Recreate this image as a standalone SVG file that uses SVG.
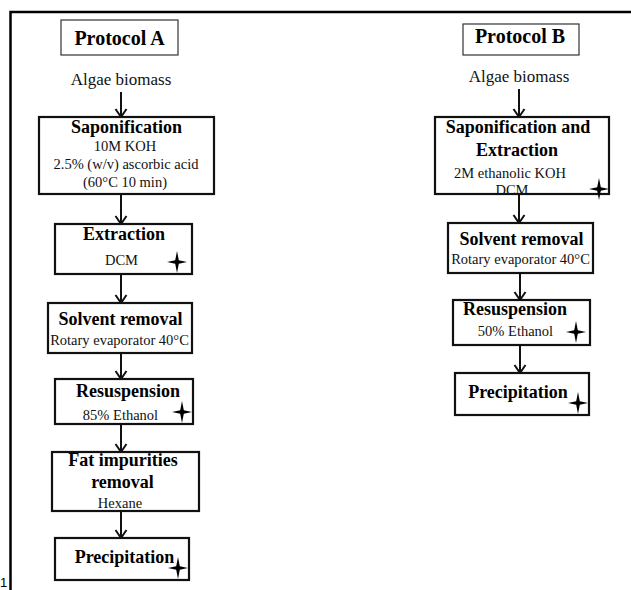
<svg xmlns="http://www.w3.org/2000/svg" xmlns:xlink="http://www.w3.org/1999/xlink" width="631" height="590" viewBox="0 0 631 590">
<style>
.box{fill:#fff;stroke:#111;stroke-width:2.2}
.tbox{fill:#fff;stroke:#333;stroke-width:1.2}
.title{font-family:"Liberation Serif",serif;font-weight:bold;font-size:20px;text-anchor:middle;fill:#000}
.b{font-family:"Liberation Serif",serif;font-weight:bold;font-size:18px;text-anchor:middle;fill:#000}
.r{font-family:"Liberation Serif",serif;font-size:14.5px;text-anchor:middle;fill:#111}
.src{font-family:"Liberation Serif",serif;font-size:17px;text-anchor:middle;fill:#111}
.conn{stroke:#111;stroke-width:2;fill:none;marker-end:url(#ah)}
.star{fill:#000}
</style>
<defs>
<marker id="ah" markerUnits="userSpaceOnUse" viewBox="-10 -7 12 14" markerWidth="12" markerHeight="14" refX="0" refY="0" orient="auto">
<path d="M-8,-5.5 L0,0 L-8,5.5" fill="none" stroke="#111" stroke-width="2"/>
</marker>
<path id="star" d="M0,-11 L1.8,-1.8 L10,0 L1.8,1.8 L0,11 L-1.8,1.8 L-10,0 L-1.8,-1.8 Z"/>
</defs>
<path d="M10.5,590 V12 H631" fill="none" stroke="#000" stroke-width="2.5"/>
<text x="0" y="587" font-family="Liberation Sans,sans-serif" font-size="13" fill="#000">1</text>

<g id="connectors">
<line class="conn" x1="121" y1="92" x2="121" y2="117"/>
<line class="conn" x1="121" y1="194" x2="121" y2="224"/>
<line class="conn" x1="121" y1="274" x2="121" y2="303"/>
<line class="conn" x1="121" y1="353" x2="121" y2="379"/>
<line class="conn" x1="121" y1="424" x2="121" y2="452"/>
<line class="conn" x1="121" y1="511" x2="121" y2="538"/>
<line class="conn" x1="519" y1="89" x2="519" y2="117"/>
<line class="conn" x1="519" y1="194" x2="519" y2="223"/>
<line class="conn" x1="520" y1="273" x2="520" y2="300"/>
<line class="conn" x1="520" y1="345" x2="520" y2="373"/>
</g>

<g id="titleA">
<rect class="tbox" x="61" y="20" width="117" height="35"/>
<text class="title" x="119.5" y="45">Protocol A</text>
</g>
<g id="srcA"><text class="src" x="121" y="85">Algae biomass</text></g>

<g id="A1">
<rect class="box" x="39" y="117" width="175" height="77"/>
<text class="b" x="126.5" y="133">Saponification</text>
<text class="r" x="125" y="151">10M KOH</text>
<text class="r" x="126" y="169">2.5% (w/v) ascorbic acid</text>
<text class="r" x="125" y="187">(60°C 10 min)</text>
</g>
<g id="A2">
<rect class="box" x="55" y="224" width="137" height="50"/>
<text class="b" x="124" y="240">Extraction</text>
<text class="r" x="121.5" y="265">DCM</text>
<use href="#star" xlink:href="#star" class="star" x="177" y="262"/>
</g>
<g id="A3">
<rect class="box" x="48" y="303" width="144" height="50"/>
<text class="b" x="120.5" y="325">Solvent removal</text>
<text class="r" x="119.5" y="345">Rotary evaporator 40°C</text>
</g>
<g id="A4">
<rect class="box" x="55" y="379" width="138" height="45"/>
<text class="b" x="128" y="397">Resuspension</text>
<text class="r" x="120.5" y="420">85% Ethanol</text>
<use href="#star" xlink:href="#star" class="star" x="182" y="412"/>
</g>
<g id="A5">
<rect class="box" x="52" y="452" width="147" height="59"/>
<text class="b" x="123" y="466">Fat impurities</text>
<text class="b" x="122.5" y="488">removal</text>
<text class="r" x="120" y="508">Hexane</text>
</g>
<g id="A6">
<rect class="box" x="55" y="538" width="134" height="42"/>
<text class="b" x="124.5" y="563">Precipitation</text>
<use href="#star" xlink:href="#star" class="star" x="178" y="568"/>
</g>

<g id="titleB">
<rect class="tbox" x="463" y="24" width="116" height="31"/>
<text class="title" x="520" y="43">Protocol B</text>
</g>
<g id="srcB"><text class="src" x="519" y="82">Algae biomass</text></g>

<g id="B1">
<rect class="box" x="435" y="117" width="174" height="77"/>
<text class="b" x="518" y="133">Saponification and</text>
<text class="b" x="517" y="156">Extraction</text>
<text class="r" x="510" y="178">2M ethanolic KOH</text>
<text class="r" x="512" y="195">DCM</text>
<use href="#star" xlink:href="#star" class="star" x="599" y="189"/>
</g>
<g id="B2">
<rect class="box" x="448" y="223" width="145" height="50"/>
<text class="b" x="521.5" y="245">Solvent removal</text>
<text class="r" x="520.5" y="264">Rotary evaporator 40°C</text>
</g>
<g id="B3">
<rect class="box" x="453" y="300" width="137" height="45"/>
<text class="b" x="515" y="315">Resuspension</text>
<text class="r" x="515.5" y="336">50% Ethanol</text>
<use href="#star" xlink:href="#star" class="star" x="576" y="332"/>
</g>
<g id="B4">
<rect class="box" x="455" y="373" width="134" height="42"/>
<text class="b" x="518" y="398">Precipitation</text>
<use href="#star" xlink:href="#star" class="star" x="578" y="403"/>
</g>
</svg>
